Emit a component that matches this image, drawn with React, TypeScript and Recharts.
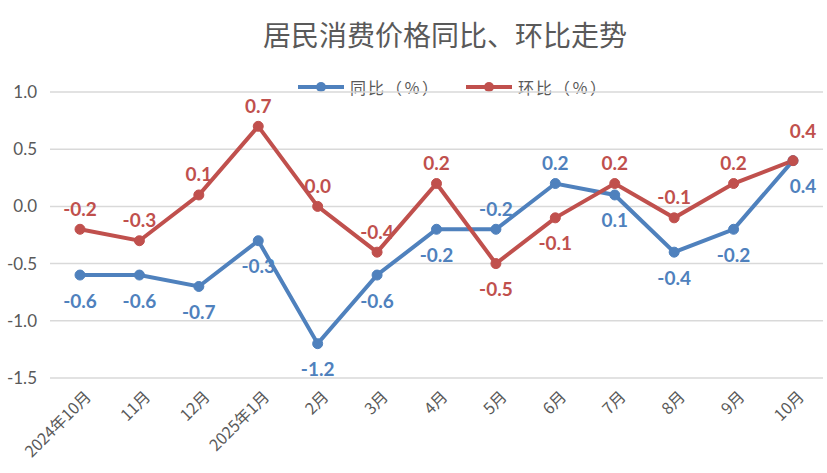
import React from 'react';
import { LineChart, Line, XAxis, YAxis, CartesianGrid } from 'recharts';

const months = ['2024年10月', '11月', '12月', '2025年1月', '2月', '3月', '4月', '5月', '6月', '7月', '8月', '9月', '10月'];
const yoyValues = [-0.6, -0.6, -0.7, -0.3, -1.2, -0.6, -0.2, -0.2, 0.2, 0.1, -0.4, -0.2, 0.4];
const momValues = [-0.2, -0.3, 0.1, 0.7, 0.0, -0.4, 0.2, -0.5, -0.1, 0.2, -0.1, 0.2, 0.4];
const yTicks = [-1.5, -1.0, -0.5, 0, 0.5, 1.0];
const seriesNames = ['同比（％）', '环比（％）'];
const titleText = '居民消费价格同比、环比走势';

// label placement (above / below the point)
const yoySide = ['b', 'b', 'b', 'b', 'b', 'b', 'b', 'a', 'a', 'b', 'b', 'b', 'b'];
const momSide = ['a', 'a', 'a', 'a', 'a', 'a', 'a', 'b', 'b', 'a', 'a', 'a', 'a'];

const data = months.map((m, i) => ({ month: m, yoy: yoyValues[i], mom: momValues[i] }));

const BLUE = '#4f81bd';
const RED = '#c0504d';
const GRAY = '#595959';

const makeLabel = (sides: string[], color: string) => (props: any) => {
  const { x, y, value, index } = props;
  const below = sides[index] === 'b';
  const last = index === months.length - 1;
  return (
    <text
      x={x + (last ? 10 : 0)}
      y={below ? y + 25 : y - (last ? 30 : 21)}
      fill={color}
      fontSize={19}
      fontWeight="bold"
      fontFamily="Lato, 'Noto Sans', sans-serif"
      textAnchor="middle"
      dominantBaseline="central"
    >
      {Number(value).toFixed(1)}
    </text>
  );
};

const XTick = (props: any) => {
  const { x, y, payload } = props;
  return (
    <g transform={`translate(${x + 12},${y + 12})`}>
      <text
        x={0}
        y={0}
        textAnchor="end"
        transform="rotate(-45)"
        fill={GRAY}
        fontSize={16}
        fontFamily="'Noto Sans CJK SC', sans-serif"
      >
        {payload.value}
      </text>
    </g>
  );
};

const LegendItem = ({ color, label }: { color: string; label: string }) => (
  <div style={{ display: 'flex', alignItems: 'center', marginRight: 26 }}>
    <svg width={46} height={12} style={{ marginRight: 6 }}>
      <line x1={0} y1={6} x2={46} y2={6} stroke={color} strokeWidth={4} strokeLinecap="round" />
      <circle cx={23} cy={6} r={5} fill={color} />
    </svg>
    <span
      style={{
        fontSize: 16,
        letterSpacing: 2,
        color: GRAY,
        fontFamily: "'Noto Sans CJK SC', sans-serif",
        lineHeight: '16px',
        whiteSpace: 'nowrap',
      }}
    >
      {label}
    </span>
  </div>
);

export default function App() {
  return (
    <div style={{ position: 'absolute', left: 0, top: 0, width: 827, height: 473, background: '#fff' }}>
      <div
        style={{
          position: 'absolute',
          left: 0,
          width: 890,
          top: 18,
          textAlign: 'center',
          fontSize: 28,
          color: GRAY,
          fontFamily: "'Noto Sans CJK SC', sans-serif",
          lineHeight: '32px',
        }}
      >
        {titleText}
      </div>
      <div style={{ position: 'absolute', left: 298, top: 79, display: 'flex' }}>
        <LegendItem color={BLUE} label={seriesNames[0]} />
        <LegendItem color={RED} label={seriesNames[1]} />
      </div>
      <LineChart width={827} height={473} data={data} margin={{ top: 92, right: 4, bottom: 0, left: 0 }}>
        <CartesianGrid vertical={false} stroke="#d9d9d9" strokeWidth={1.5} />
        <XAxis
          dataKey="month"
          axisLine={false}
          tickLine={false}
          interval={0}
          height={95}
          padding={{ left: 30, right: 30 }}
          tick={<XTick />}
        />
        <YAxis
          width={50}
          domain={[-1.5, 1.0]}
          ticks={yTicks}
          axisLine={false}
          tickLine={false}
          tickMargin={7}
          tickFormatter={(v: number) => v.toFixed(1)}
          tick={{ fill: GRAY, fontSize: 17, fontFamily: "Lato, sans-serif" }}
        />
        <Line
          type="linear"
          dataKey="yoy"
          stroke={BLUE}
          strokeWidth={4}
          dot={{ r: 5, fill: BLUE, stroke: BLUE, strokeWidth: 1 }}
          isAnimationActive={false}
          label={makeLabel(yoySide, BLUE)}
        />
        <Line
          type="linear"
          dataKey="mom"
          stroke={RED}
          strokeWidth={4}
          dot={{ r: 5, fill: RED, stroke: RED, strokeWidth: 1 }}
          isAnimationActive={false}
          label={makeLabel(momSide, RED)}
        />
      </LineChart>
    </div>
  );
}
